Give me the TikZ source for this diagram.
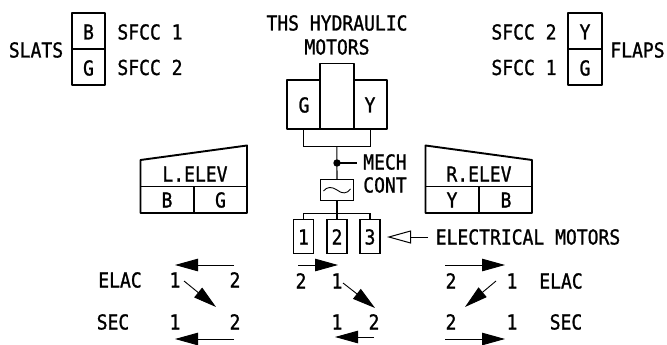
\documentclass[tikz,border=0pt]{standalone}
\usepackage{fontspec}
\setmonofont[FakeStretch=0.875,FakeBold=1.1]{DejaVu Sans Mono}
\usetikzlibrary{arrows.meta}
\tikzset{
  thickbox/.style={draw,line width=1.9pt,inner sep=0pt,line join=round},
  thinbox/.style={draw,line width=1.1pt,inner sep=0pt},
  lab/.style={inner sep=0pt,text height=15pt,text depth=0pt,font=\ttfamily\fontsize{20.6}{22}\selectfont},
  thick line/.style={line width=1.9pt,line join=round},
  thin line/.style={line width=1.1pt},
  solidarrow/.style={line width=.9pt,-{Triangle[length=23pt,width=12.5pt]}},
  openarrow/.style={line width=1pt,-{Triangle[open,length=24pt,width=13pt,fill=white]}}
}
\begin{document}
\begin{tikzpicture}[x=1pt,y=-1pt]
\useasboundingbox (0,0) rectangle (667,345);
% slats
\node[thickbox,minimum width=33.5pt,minimum height=36pt] (slatsB) at (88.5,31) {};
\node[thickbox,minimum width=33.5pt,minimum height=36pt] (slatsG) at (88.5,67) {};
\node[lab] (tB) at (88.5,32) {B};
\node[lab] (tG) at (88.5,68) {G};
\node[lab] (slats) at (36,50) {SLATS};
\node[lab] (sf1) at (150,32) {SFCC 1};
\node[lab] (sf2) at (150,67.5) {SFCC 2};
% flaps
\node[thickbox,minimum width=33.5pt,minimum height=36pt] (flapsY) at (585,31) {};
\node[thickbox,minimum width=33.5pt,minimum height=36pt] (flapsG) at (585,67) {};
\node[lab] (tY) at (585,32) {Y};
\node[lab] (tG2) at (585,68) {G};
\node[lab] (flaps) at (637.5,50) {FLAPS};
\node[lab] (sf3) at (524,32) {SFCC 2};
\node[lab] (sf4) at (524,67.5) {SFCC 1};
% THS
\node[lab] (ths) at (337,23) {THS HYDRAULIC};
\node[lab] (mot) at (337,47) {MOTORS};
\node[thin line,draw,inner sep=0pt,minimum width=67pt,minimum height=17.5pt] (link) at (336.8,137.7) {};
\node[thickbox,minimum width=33.5pt,minimum height=49pt] (mG) at (303.5,104.5) {};
\node[thickbox,minimum width=33.5pt,minimum height=49pt] (mY) at (370.5,104.5) {};
\node[lab] (tmG) at (304,105) {G};
\node[lab] (tmY) at (370,105) {Y};
\node[thickbox,minimum width=33.5pt,minimum height=65.5pt] (mC) at (337,96.25) {};
\node[thinbox,minimum width=33.5pt,minimum height=20.5pt] (mech) at (337,190) {};
\draw[line width=.9pt] (323.5,191) .. controls (327,186.5) and (332,186.5) .. (337,190) .. controls (342,194) and (347,194) .. (350.5,189);
\coordinate (dot) at (337,163);
\draw[thin line] (link.south) -- (mech.north);
\fill (dot) circle (3.7pt);
\coordinate (mechend) at (357,163);
\draw[thin line] (dot) -- (mechend);
\node[lab] (mc1) at (385,162) {MECH};
\node[lab] (mc2) at (385,185) {CONT};
% motors
\node[thinbox,minimum width=20pt,minimum height=33.5pt] (e1) at (303.5,236.5) {};
\node[thinbox,minimum width=20pt,minimum height=33.5pt] (e2) at (337,236.5) {};
\node[thinbox,minimum width=20pt,minimum height=33.5pt] (e3) at (370,236.5) {};
\node[lab] (te1) at (303.5,237) {1};
\node[lab] (te2) at (337,237) {2};
\node[lab] (te3) at (370,237) {3};
\coordinate (bus) at (337,213.5);
\draw[thin line] (mech.south) -- (e2.north);
\draw[thin line] (e1.north) -- (e1.north |- bus) -- (e3.north |- bus) -- (e3.north);
\node[lab] (em) at (528,237) {ELECTRICAL MOTORS};
\coordinate (emstart) at (428,237);
\coordinate (emtip) at (387,237);
\draw[openarrow] (emstart) -- (emtip);
% elevators
\coordinate (la) at (140.5,160);
\coordinate (lb) at (247,145.5);
\coordinate (lc) at (247,213);
\coordinate (ld) at (140.5,213);
\draw[thick line] (la) -- (lb) -- (lc) -- (ld) -- cycle;
\draw[thin line] (140.5,186.5) -- (247,186.5) (194,186.5) -- (194,213);
\node[lab] (lel) at (195,174) {L.ELEV};
\node[lab] (lB) at (167,200) {B};
\node[lab] (lG) at (220.5,200) {G};
\coordinate (ra) at (425.5,145.5);
\coordinate (rb) at (532,160);
\coordinate (rc) at (532,213);
\coordinate (rd) at (425.5,213);
\draw[thick line] (ra) -- (rb) -- (rc) -- (rd) -- cycle;
\draw[thin line] (425.5,186.5) -- (532,186.5) (479,186.5) -- (479,213);
\node[lab] (rel) at (479,174) {R.ELEV};
\node[lab] (rY) at (452,200) {Y};
\node[lab] (rB) at (506,200) {B};
% lower left
\node[lab] (elac1) at (120,280) {ELAC};
\node[lab] (sec1) at (113,322) {SEC};
\node[lab] (a1) at (175,280) {1};
\node[lab] (a2) at (235,280) {2};
\node[lab] (a3) at (175,322) {1};
\node[lab] (a4) at (235,322) {2};
\coordinate (p1) at (234,265); \coordinate (p2) at (175,265);
\coordinate (p3) at (184,281); \coordinate (p4) at (216,307);
\coordinate (p5) at (234,339); \coordinate (p6) at (175,339);
\draw[solidarrow] (p1) -- (p2);
\draw[solidarrow] (p3) -- (p4);
\draw[solidarrow] (p5) -- (p6);
% lower centre
\node[lab] (b1) at (301,281) {2};
\node[lab] (b2) at (337,281) {1};
\node[lab] (b3) at (337,322) {1};
\node[lab] (b4) at (374,322) {2};
\coordinate (q1) at (298,265); \coordinate (q2) at (338,265);
\coordinate (q3) at (343,283); \coordinate (q4) at (375,308);
\coordinate (q5) at (374,337); \coordinate (q6) at (335,337);
\draw[solidarrow] (q1) -- (q2);
\draw[solidarrow] (q3) -- (q4);
\draw[solidarrow] (q5) -- (q6);
% lower right
\node[lab] (c1) at (451,281) {2};
\node[lab] (c2) at (512,281) {1};
\node[lab] (c3) at (451,322) {2};
\node[lab] (c4) at (512,322) {1};
\node[lab] (elac2) at (561,281) {ELAC};
\node[lab] (sec2) at (566,322) {SEC};
\coordinate (r1) at (445,265); \coordinate (r2) at (505,265);
\coordinate (r3) at (496,281); \coordinate (r4) at (465,307);
\coordinate (r5) at (445,339); \coordinate (r6) at (505,339);
\draw[solidarrow] (r1) -- (r2);
\draw[solidarrow] (r3) -- (r4);
\draw[solidarrow] (r5) -- (r6);
\end{tikzpicture}
\end{document}
